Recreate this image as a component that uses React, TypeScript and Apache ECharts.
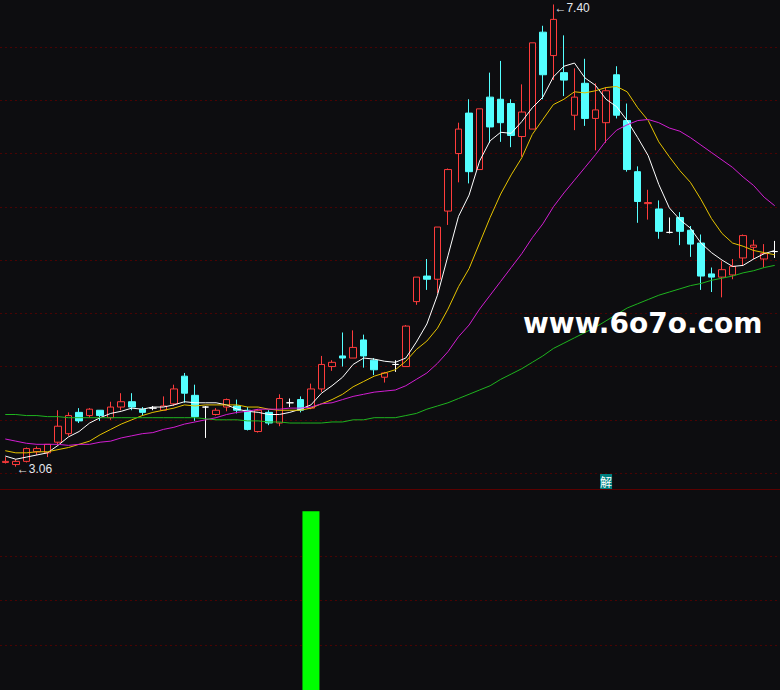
import React, { useEffect, useRef } from "react";
import * as echarts from "echarts";

// [open, close, low, high]
const candles: [number, number, number, number][] = [
  [3.10, 3.11, 3.09, 3.15], [3.08, 3.11, 3.06, 3.13], [3.11, 3.23, 3.10, 3.24], [3.20, 3.23, 3.17, 3.25],
  [3.19, 3.27, 3.15, 3.27], [3.29, 3.44, 3.27, 3.59], [3.37, 3.54, 3.35, 3.57], [3.57, 3.49, 3.47, 3.61],
  [3.54, 3.60, 3.52, 3.61], [3.59, 3.54, 3.49, 3.59], [3.52, 3.62, 3.50, 3.67], [3.62, 3.67, 3.59, 3.75],
  [3.67, 3.62, 3.59, 3.75], [3.60, 3.57, 3.54, 3.62], [3.61, 3.61, 3.59, 3.63], [3.59, 3.63, 3.59, 3.72],
  [3.65, 3.79, 3.63, 3.83], [3.91, 3.75, 3.66, 3.94], [3.73, 3.53, 3.49, 3.83], [3.62, 3.62, 3.33, 3.63],
  [3.55, 3.59, 3.54, 3.61], [3.62, 3.69, 3.58, 3.70], [3.63, 3.59, 3.56, 3.69], [3.59, 3.41, 3.40, 3.62],
  [3.39, 3.59, 3.38, 3.60], [3.57, 3.47, 3.45, 3.59], [3.47, 3.70, 3.44, 3.74], [3.66, 3.66, 3.62, 3.70],
  [3.69, 3.59, 3.57, 3.72], [3.61, 3.79, 3.60, 3.84], [3.79, 4.02, 3.76, 4.10], [4.00, 4.04, 3.96, 4.06],
  [4.10, 4.08, 4.00, 4.32], [4.08, 4.18, 4.08, 4.34], [4.25, 4.10, 3.99, 4.30], [4.06, 3.97, 3.92, 4.08],
  [3.90, 3.94, 3.85, 3.95], [4.02, 4.02, 3.95, 4.06], [4.00, 4.38, 4.00, 4.39], [4.61, 4.84, 4.58, 4.84],
  [4.85, 4.82, 4.72, 5.01], [4.82, 5.31, 4.69, 5.31], [5.46, 5.85, 5.33, 5.86], [6.00, 6.23, 5.73, 6.29],
  [6.38, 5.83, 5.72, 6.51], [5.85, 6.42, 5.85, 6.42], [6.53, 6.25, 6.10, 6.76], [6.51, 6.29, 6.11, 6.87],
  [6.47, 6.17, 6.06, 6.51], [6.16, 6.39, 5.97, 6.65], [6.23, 7.04, 6.23, 7.04], [7.14, 6.74, 6.51, 7.20],
  [6.92, 7.26, 6.69, 7.40], [6.76, 6.69, 6.54, 7.11], [6.36, 6.53, 6.22, 6.80], [6.66, 6.33, 6.26, 6.89],
  [6.33, 6.41, 6.03, 6.66], [6.29, 6.59, 6.10, 6.62], [6.74, 6.36, 6.33, 6.82], [6.31, 5.85, 5.83, 6.47],
  [5.83, 5.55, 5.35, 5.88], [5.53, 5.54, 5.38, 5.66], [5.48, 5.27, 5.20, 5.56], [5.26, 5.26, 5.25, 5.40],
  [5.40, 5.27, 5.14, 5.45], [5.28, 5.15, 5.03, 5.32], [5.16, 4.85, 4.72, 5.24], [4.87, 4.84, 4.70, 4.93],
  [4.84, 4.91, 4.65, 4.99], [4.86, 4.94, 4.82, 5.01], [5.02, 5.23, 4.95, 5.24], [5.12, 5.14, 5.01, 5.19],
  [5.01, 5.06, 4.93, 5.15], [5.08, 5.08, 5.02, 5.18],
];

const ma5 = [
  3.16, 3.13, 3.15, 3.17, 3.19, 3.26, 3.34, 3.39, 3.47, 3.52,
  3.56, 3.58, 3.61, 3.60, 3.62, 3.62, 3.64, 3.67, 3.66, 3.66,
  3.66, 3.64, 3.60, 3.58, 3.57, 3.55, 3.55, 3.57, 3.60, 3.64,
  3.75, 3.82, 3.90, 4.02, 4.08, 4.07, 4.05, 4.04, 4.08, 4.23,
  4.40, 4.67, 5.04, 5.41, 5.61, 5.93, 6.12, 6.20, 6.19, 6.30,
  6.43, 6.53, 6.72, 6.82, 6.85, 6.71, 6.64, 6.51, 6.44, 6.31,
  6.15, 5.98, 5.71, 5.49, 5.38, 5.30, 5.16, 5.07, 5.00, 4.94,
  4.95, 5.01, 5.06, 5.09,
];

const ma10 = [
  3.21, 3.19, 3.19, 3.20, 3.20, 3.22, 3.24, 3.27, 3.30, 3.36,
  3.41, 3.46, 3.50, 3.54, 3.57, 3.59, 3.61, 3.64, 3.63, 3.64,
  3.64, 3.64, 3.64, 3.62, 3.62, 3.60, 3.59, 3.59, 3.59, 3.61,
  3.65, 3.69, 3.74, 3.81, 3.86, 3.91, 3.94, 3.97, 4.05, 4.16,
  4.24, 4.36, 4.54, 4.75, 4.92, 5.16, 5.40, 5.62, 5.80, 5.96,
  6.18, 6.32, 6.46, 6.51, 6.58, 6.57, 6.59, 6.62, 6.63, 6.58,
  6.43, 6.31, 6.11, 5.97, 5.84, 5.73, 5.57, 5.39, 5.25, 5.16,
  5.13, 5.09, 5.07, 5.05,
];

const ma20 = [
  3.32, 3.30, 3.28, 3.27, 3.27, 3.27, 3.26, 3.27, 3.27, 3.29,
  3.30, 3.33, 3.35, 3.37, 3.38, 3.41, 3.43, 3.46, 3.48, 3.50,
  3.52, 3.55, 3.57, 3.58, 3.60, 3.60, 3.60, 3.61, 3.61, 3.62,
  3.65, 3.66, 3.69, 3.72, 3.74, 3.76, 3.77, 3.78, 3.82, 3.88,
  3.94, 4.03, 4.14, 4.28, 4.39, 4.54, 4.67, 4.80, 4.93, 5.06,
  5.21, 5.34, 5.50, 5.63, 5.75, 5.87, 5.99, 6.12, 6.22, 6.27,
  6.31, 6.32, 6.29, 6.24, 6.21, 6.15, 6.08, 6.01, 5.94, 5.87,
  5.78, 5.70, 5.59, 5.51,
];

const ma60 = [
  3.55, 3.55, 3.54, 3.54, 3.53, 3.53, 3.52, 3.52, 3.52, 3.52,
  3.52, 3.52, 3.52, 3.52, 3.52, 3.52, 3.52, 3.52, 3.52, 3.51,
  3.50, 3.50, 3.50, 3.49, 3.49, 3.48, 3.48, 3.47, 3.47, 3.47,
  3.47, 3.48, 3.48, 3.50, 3.50, 3.52, 3.52, 3.52, 3.54, 3.56,
  3.60, 3.63, 3.66, 3.70, 3.74, 3.78, 3.82, 3.88, 3.93, 3.98,
  4.04, 4.10, 4.17, 4.22, 4.27, 4.32, 4.37, 4.43, 4.49, 4.55,
  4.59, 4.63, 4.67, 4.70, 4.73, 4.76, 4.78, 4.81, 4.83, 4.85,
  4.88, 4.90, 4.93, 4.95,
];

const days = candles.map((_, i) => String(i + 1));

const HIGH_INDEX = 52;
const HIGH_VALUE = 7.4;
const LOW_INDEX = 1;
const LOW_VALUE = 3.06;
const SIGNAL_INDEX = 29;
const SIGNAL_VALUE = 4;
const MARK_INDEX = 57;
const MARK_TEXT = "解";
const WATERMARK = "www.6o7o.com";

const signal = days.map((_, i) => (i === SIGNAL_INDEX ? SIGNAL_VALUE : 0));

const BG = "#0d0d10";
const RED = "#ff3c3c";
const CYAN = "#54ffff";
const GRID_COLOR = "#4a0303";

export default function App() {
  const ref = useRef<HTMLDivElement>(null);

  useEffect(() => {
    if (!ref.current) return;
    const chart = echarts.init(ref.current, undefined, { renderer: "svg" });

    const dojiStyle = { color: "#ffffff", color0: "#ffffff", borderColor: "#ffffff", borderColor0: "#ffffff" };
    const kData = candles.map((c) => (c[0] === c[1] ? { value: c, itemStyle: dojiStyle } : c));

    const gridAxisStyle = {
      axisLine: { show: false },
      axisTick: { show: false },
      axisLabel: { show: false },
      splitLine: { show: true, lineStyle: { color: GRID_COLOR, type: [2, 3], width: 1 } },
    };

    const maLine = (name: string, data: number[], color: string) => ({
      name,
      type: "line",
      xAxisIndex: 0,
      yAxisIndex: 0,
      data,
      symbol: "none",
      smooth: false,
      z: 3,
      lineStyle: { color, width: 1 },
      itemStyle: { color },
      silent: true,
    });

    const option: any = {
      animation: false,
      backgroundColor: BG,
      grid: [
        { left: -1, width: 783.7, top: 0, height: 489 },
        { left: 0, right: 0, top: 47.1, height: 426 },
        { left: -1, width: 783.7, top: 489, height: 201 },
        { left: 0, right: 0, top: 556, height: 89.3 },
      ],
      xAxis: [
        { type: "category", data: days, gridIndex: 0, show: false, boundaryGap: true },
        { type: "value", gridIndex: 1, show: false, min: 0, max: 1 },
        { type: "category", data: days, gridIndex: 2, show: false, boundaryGap: true },
        { type: "value", gridIndex: 3, show: false, min: 0, max: 1 },
      ],
      yAxis: [
        { type: "value", gridIndex: 0, min: 2.8505, max: 7.442, show: false },
        { type: "value", gridIndex: 1, min: 3, max: 7, interval: 0.5, ...gridAxisStyle },
        { type: "value", gridIndex: 2, min: 0, max: 4.5, show: false },
        { type: "value", gridIndex: 3, min: 1, max: 3, interval: 1, ...gridAxisStyle },
      ],
      graphic: [
        {
          type: "line",
          silent: true,
          shape: { x1: 0, y1: 489.5, x2: 780, y2: 489.5 },
          style: { stroke: "#5a0000", lineWidth: 1 },
        },
        {
          type: "text",
          silent: true,
          x: 523,
          y: 323,
          z: 100,
          style: {
            text: WATERMARK,
            fill: "#ffffff",
            font: 'bold 28px "DejaVu Sans"',
            verticalAlign: "middle",
            align: "left",
          },
        },
      ],
      series: [
        {
          type: "candlestick",
          xAxisIndex: 0,
          yAxisIndex: 0,
          barWidth: 7,
          z: 2,
          silent: true,
          data: kData,
          itemStyle: {
            color: BG,
            color0: CYAN,
            borderColor: RED,
            borderColor0: CYAN,
            borderWidth: 1,
          },
          markPoint: {
            symbol: "circle",
            symbolSize: 0,
            silent: true,
            label: {
              show: true,
              color: "#e4e8ee",
              fontSize: 12,
              fontFamily: "Liberation Sans",
            },
            data: [
              {
                coord: [days[HIGH_INDEX], HIGH_VALUE],
                label: { formatter: "←" + HIGH_VALUE.toFixed(2), position: "right", distance: 1, offset: [0, 4] },
              },
              {
                coord: [days[LOW_INDEX], LOW_VALUE],
                label: { formatter: "←" + LOW_VALUE.toFixed(2), position: "right", distance: 1, offset: [0, 2] },
              },
              {
                coord: [days[MARK_INDEX], 2.921],
                label: {
                  formatter: MARK_TEXT,
                  position: "inside",
                  color: "#ffffff",
                  backgroundColor: "#008080",
                  fontFamily: "Noto Sans CJK SC",
                  fontSize: 12,
                  padding: [1, 0, 1, 0],
                  lineHeight: 13,
                },
              },
            ],
          },
        },
        maLine("MA5", ma5, "#ffffff"),
        maLine("MA10", ma10, "#e6c300"),
        maLine("MA20", ma20, "#d21ed2"),
        maLine("MA60", ma60, "#1fb41f"),
        {
          type: "bar",
          xAxisIndex: 2,
          yAxisIndex: 2,
          data: signal,
          barWidth: 17,
          silent: true,
          itemStyle: { color: "#00ff00" },
        },
      ],
    };

    chart.setOption(option);
    return () => chart.dispose();
  }, []);

  return (
    <div
      ref={ref}
      style={{ position: "absolute", left: 0, top: 0, width: 780, height: 690 }}
    />
  );
}
